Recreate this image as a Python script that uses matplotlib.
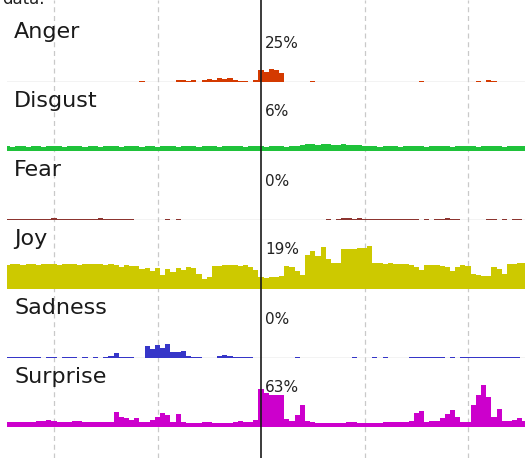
import numpy as np
import matplotlib
matplotlib.use("Agg")
import matplotlib.pyplot as plt

# ---------------- data ----------------
emotions = ["Anger", "Disgust", "Fear", "Joy", "Sadness", "Surprise"]
cursor_labels = ["25%", "6%", "0%", "19%", "0%", "63%"]
colors = ["#d43a00", "#1fc23a", "#8c3530", "#cdc900", "#3636c8", "#cc00cc"]

t_start = 5.5          # time of first sample
t_step = 0.5           # sample spacing
cursor_time = 30
grid_times = [10, 20, 40, 50]

anger = [0] * 26 + [1, 0, 0, 0, 0, 0, 0, 2, 2, 1, 2, 0, 2, 3, 2, 4, 3, 4, 2, 1, 1, 0, 2,
                    12, 10, 13, 12, 9,
                    0, 0, 0, 0, 0, 1] + [0] * 20 + [1] + [0] * 10 + [1, 0, 2, 1] + [0] * 6

disgust = [5, 4, 5, 5, 4, 5, 5, 4, 5, 5, 5, 4, 5, 5, 5, 4, 5, 5, 4, 5,
           5, 5, 4, 5, 5, 5, 4, 5, 5, 4, 5, 5, 5, 4, 5, 5, 5, 4, 5, 5,
           5, 4, 5, 5, 5, 5, 4, 5, 5, 5, 4, 5, 5, 5, 4, 5, 5,
           6, 7, 7, 6, 7, 7, 6, 6, 7, 6, 6, 6, 5,
           5, 5, 4, 5, 5, 5, 4, 5, 5, 5, 5, 4, 5, 5, 5, 5, 4, 5, 5, 5,
           5, 4, 5, 5, 5, 5, 4, 5, 5, 5, 5]

fear = [1, 1, 1, 1, 1, 1, 1, 1, 1, 2, 1, 1, 1, 1, 1, 1, 1, 1, 2, 1, 1, 1, 1, 1, 1,
        0, 0, 0, 0, 0, 0, 1, 0, 1,
        0, 0, 0, 0, 0, 0, 0, 0, 0, 0, 0, 0, 0, 0, 0, 0, 0, 0, 0, 0, 0, 0, 0, 0, 0, 0, 0, 0,
        1, 0, 1, 2, 2, 1, 2,
        1, 1, 1, 1, 1, 1, 1, 1, 1, 1, 1,
        0, 1, 0, 1, 1, 2, 1, 1, 0, 0, 0, 0, 0, 1, 1, 0, 1, 0, 1, 1, 0]

joy = [24, 25, 25, 24, 25, 25, 24, 25, 25, 25, 24, 25, 25, 25, 24, 25, 25, 25, 25, 24, 25, 24,
       22, 24, 23, 23, 20, 21, 18, 21, 14, 20, 17, 21, 19, 22, 21, 15, 10, 12, 23, 23, 24, 24,
       24, 23, 24, 22, 19, 12,
       11, 12, 12, 13, 23, 22, 18, 14, 34, 38, 33, 42, 30, 26, 26, 40, 40, 40, 41, 41, 43, 26,
       26, 25, 26, 25, 25, 25, 24, 22,
       19, 24, 24, 24, 23, 22, 18, 22, 24, 23, 15, 14, 13, 13, 22, 20, 15, 25, 25, 26, 26]

sadness = [1, 1, 1, 1, 1, 1, 1, 0, 1, 1, 0, 1, 1, 1, 0, 1, 0, 1, 0, 1, 2, 5, 1, 1, 1, 0, 0,
           12, 9, 13, 10, 14, 6, 6, 7, 2, 1, 1, 0, 0, 0, 2, 3, 2, 1, 1, 1, 1, 0,
           0, 0, 0, 0, 0, 0, 0, 1, 0, 0, 0, 0, 0, 0, 0, 0, 0, 0, 1, 0, 0, 0, 1, 0, 1, 0, 0, 0, 0,
           1, 1, 1, 1, 1, 1, 1, 0, 1, 0,
           1, 1, 1, 1, 1, 1, 1, 1, 1, 1, 1, 1]

surprise = [5, 5, 5, 5, 5, 5, 6, 6, 7, 6, 5, 5, 5, 6, 6, 5, 5, 5, 5, 5, 5,
            15, 10, 9, 7, 9, 5, 5, 7, 10, 14, 12, 5, 13, 5,
            4, 4, 4, 5, 5, 4, 4, 4, 4, 5, 6, 5, 5, 7,
            38, 34, 32, 32, 32, 8, 6, 12, 22, 6, 5,
            4, 4, 4, 4, 4, 4, 5, 5, 4, 4, 4, 4, 4, 5, 5, 5, 5, 5, 6,
            14, 16, 5, 6, 6, 9, 13, 17, 10, 5, 5, 22, 32, 42, 30, 10, 18, 6, 6, 7, 9, 6]

series = [anger, disgust, fear, joy, sadness, surprise]

# ---------------- layout (pixels) ----------------
W, H = 525, 458
left_px, right_px = 7, 525
baselines_px = [82, 151, 220, 289, 358, 427]
panel_h_px = 69
x_min, x_max = 5.46, 55.5

fig = plt.figure(figsize=(W / 100, H / 100), dpi=100)
fig.patch.set_facecolor("white")

# background axes for vertical grid lines (full height)
bg = fig.add_axes([left_px / W, 0, (right_px - left_px) / W, 1], zorder=0)
bg.set_xlim(x_min, x_max)
bg.set_ylim(0, 1)
bg.axis("off")
for gt in grid_times:
    bg.axvline(gt, color="#c9c9c9", lw=0.9, dashes=(4, 3))

for i, (name, vals, col, lab) in enumerate(zip(emotions, series, colors, cursor_labels)):
    b = baselines_px[i]
    ax = fig.add_axes([left_px / W, (H - b) / H, (right_px - left_px) / W, panel_h_px / H],
                      zorder=1)
    ax.patch.set_alpha(0)
    ax.set_xlim(x_min, x_max)
    ax.set_ylim(0, panel_h_px)
    ax.axis("off")
    v = np.asarray(vals, dtype=float)
    t = t_start + t_step * np.arange(len(v))
    ax.axhline(0, color="#c4c4c4", lw=1.0, zorder=1)
    ax.fill_between(t, 0, v, step="mid", color=col, lw=0, zorder=2)
    fig.text(14 / W, (H - (b - 50)) / H, name, fontsize=16, color="#1a1a1a",
             ha="left", va="center", zorder=5)
    fig.text(265 / W, (H - (b - 39)) / H, lab, fontsize=11, color="#222222",
             ha="left", va="center", zorder=5)

# cursor line on top
top = fig.add_axes([left_px / W, 0, (right_px - left_px) / W, 1], zorder=3)
top.set_xlim(x_min, x_max)
top.set_ylim(0, 1)
top.axis("off")
top.patch.set_alpha(0)
top.axvline(cursor_time, color="#1a1a1a", lw=1.2)

fig.text(2 / W, 1 - 4 / H, "data.", fontsize=12, color="#222222", ha="left", va="baseline")

fig.savefig("out.png", dpi=100)
